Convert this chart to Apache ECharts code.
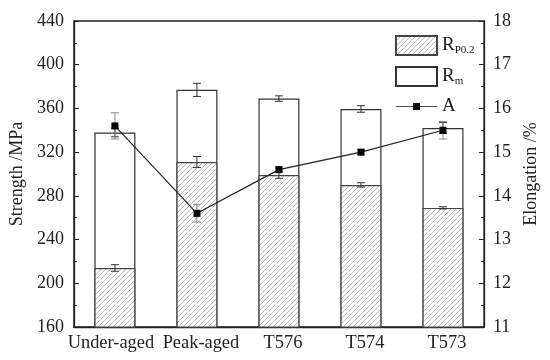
<!DOCTYPE html>
<html><head><meta charset="utf-8">
<script src="https://cdn.jsdelivr.net/npm/echarts@6/dist/echarts.min.js"></script>
<style>html,body{margin:0;padding:0;background:#fff}#c{width:550px;height:360px}</style>
</head><body><div id="c"></div>
<script>
const categories = ['Under-aged', 'Peak-aged', 'T576', 'T574', 'T573'];
const rp02 = [214, 311, 299, 290, 269];
const rp02Err = [3, 5, 3, 2, 1];
const rm = [338, 377, 369, 359.5, 342];
const rmErr = [4, 6, 2.5, 3, 5];
const elong = [15.6, 13.6, 14.6, 15.0, 15.5];
const elongErr = [0.3, 0.2, 0.06, 0.06, 0.2];

// hatch pattern
const pc = document.createElement('canvas');
const s = 5;
pc.width = s; pc.height = s;
const g = pc.getContext('2d');
g.fillStyle = '#fff'; g.fillRect(0, 0, s, s);
g.strokeStyle = '#a8a8a8'; g.lineWidth = 0.8;
g.beginPath();
g.moveTo(0, s); g.lineTo(s, 0);
g.moveTo(-1, 1); g.lineTo(1, -1);
g.moveTo(s - 1, s + 1); g.lineTo(s + 1, s - 1);
g.stroke();
const hatch = { image: pc, repeat: 'repeat' };

function errSeries(vals, errs, yIdx, color) {
  return {
    type: 'custom', yAxisIndex: yIdx, z: 5, silent: true,
    data: vals.map((v, i) => [i, v, errs[i]]),
    renderItem: function (params, api) {
      const i = api.value(0), v = api.value(1), e = api.value(2);
      const top = api.coord([i, v + e]);
      const bot = api.coord([i, v - e]);
      const w = 4;
      return {
        type: 'group',
        children: [
          { type: 'line', shape: { x1: top[0], y1: top[1], x2: bot[0], y2: bot[1] }, style: { stroke: color, lineWidth: 1 } },
          { type: 'line', shape: { x1: top[0] - w, y1: top[1], x2: top[0] + w, y2: top[1] }, style: { stroke: color, lineWidth: 1 } },
          { type: 'line', shape: { x1: bot[0] - w, y1: bot[1], x2: bot[0] + w, y2: bot[1] }, style: { stroke: color, lineWidth: 1 } }
        ]
      };
    }
  };
}

const font = 'Liberation Serif';
const chart = echarts.init(document.getElementById('c'));
chart.setOption({
  animation: false,
  backgroundColor: '#fff',
  textStyle: { fontFamily: font, color: '#222' },
  grid: { left: 73, right: 66, top: 21, bottom: 33, show: true, borderColor: '#222', borderWidth: 1.3, backgroundColor: 'transparent' },
  legend: {
    orient: 'vertical', left: 390, top: 30, itemWidth: 41, itemHeight: 19, itemGap: 10,
    data: [
      { name: 'Rp0.2', icon: 'rect' },
      { name: 'Rm', icon: 'rect' },
      { name: 'A', icon: 'path://M0,9.5 L41,9.5 L41,10.3 L0,10.3 Z M17,6.5 L24,6.5 L24,13.5 L17,13.5 Z',
        itemStyle: { color: '#111', borderWidth: 0 } }
    ],
    textStyle: {
      fontFamily: font, fontSize: 19, color: '#222',
      rich: {
        r: { fontFamily: font, fontSize: 19, color: '#222' },
        s: { fontFamily: font, fontSize: 11, color: '#222', verticalAlign: 'bottom', padding: [10, 0, 0, 0] }
      }
    },
    formatter: function (n) {
      if (n === 'Rp0.2') return '{r|R}{s|P0.2}';
      if (n === 'Rm') return '{r|R}{s|m}';
      return '{r|A}';
    }
  },
  xAxis: {
    type: 'category', data: categories,
    axisLine: { lineStyle: { color: '#222', width: 1.3 } },
    axisTick: { inside: true, alignWithLabel: true, length: 5, lineStyle: { color: '#222' } },
    axisLabel: {
      fontFamily: font, fontSize: 18, color: '#222', margin: 7, interval: 0,
      formatter: function (v, i) { return i === 0 ? '{u|' + v + '}' : '{o|' + v + '}'; },
      rich: {
        u: { fontFamily: font, fontSize: 18.4, color: '#222', padding: [0, 8, 0, 0] },
        o: { fontFamily: font, fontSize: 18.4, color: '#222', padding: [0, 0, 0, 8] }
      }
    }
  },
  yAxis: [{
    type: 'value', min: 160, max: 440, interval: 40,
    name: 'Strength /MPa', nameLocation: 'middle', nameGap: 42, nameRotate: 90,
    nameTextStyle: { fontFamily: font, fontSize: 18, color: '#222' },
    axisLine: { show: true, lineStyle: { color: '#222', width: 1.3 } },
    axisTick: { show: true, inside: true, length: 5, lineStyle: { color: '#222' } },
    minorTick: { show: true, splitNumber: 2, length: 3, lineStyle: { color: '#222' } },
    splitLine: { show: false },
    axisLabel: { fontFamily: font, fontSize: 18, color: '#222', margin: 10 }
  }, {
    type: 'value', min: 11, max: 18, interval: 1, position: 'right',
    name: 'Elongation /%', nameLocation: 'middle', nameGap: 34, nameRotate: 90,
    nameTextStyle: { fontFamily: font, fontSize: 18, color: '#222' },
    axisLine: { show: true, lineStyle: { color: '#222', width: 1.3 } },
    axisTick: { show: true, inside: true, length: 5, lineStyle: { color: '#222' } },
    minorTick: { show: true, splitNumber: 2, length: 3, lineStyle: { color: '#222' } },
    splitLine: { show: false },
    axisLabel: { fontFamily: font, fontSize: 18, color: '#222', margin: 9 }
  }],
  series: [
    { name: 'Rm', type: 'bar', data: rm, barWidth: 41, barGap: '-100%', z: 2,
      itemStyle: { color: '#fff', borderColor: '#333', borderWidth: 1.2 } },
    { name: 'Rp0.2', type: 'bar', data: rp02, barWidth: 41, barGap: '-100%', z: 3,
      itemStyle: { color: hatch, borderColor: '#444', borderWidth: 1.2 } },
    errSeries(rm, rmErr, 0, '#333'),
    errSeries(rp02, rp02Err, 0, '#333'),
    errSeries(elong, elongErr, 1, '#888'),
    { name: 'A', type: 'line', yAxisIndex: 1, data: elong, z: 10,
      symbol: 'rect', symbolSize: 7,
      lineStyle: { color: '#222', width: 1.2 },
      itemStyle: { color: '#000' } }
  ]
});
</script></body></html>
